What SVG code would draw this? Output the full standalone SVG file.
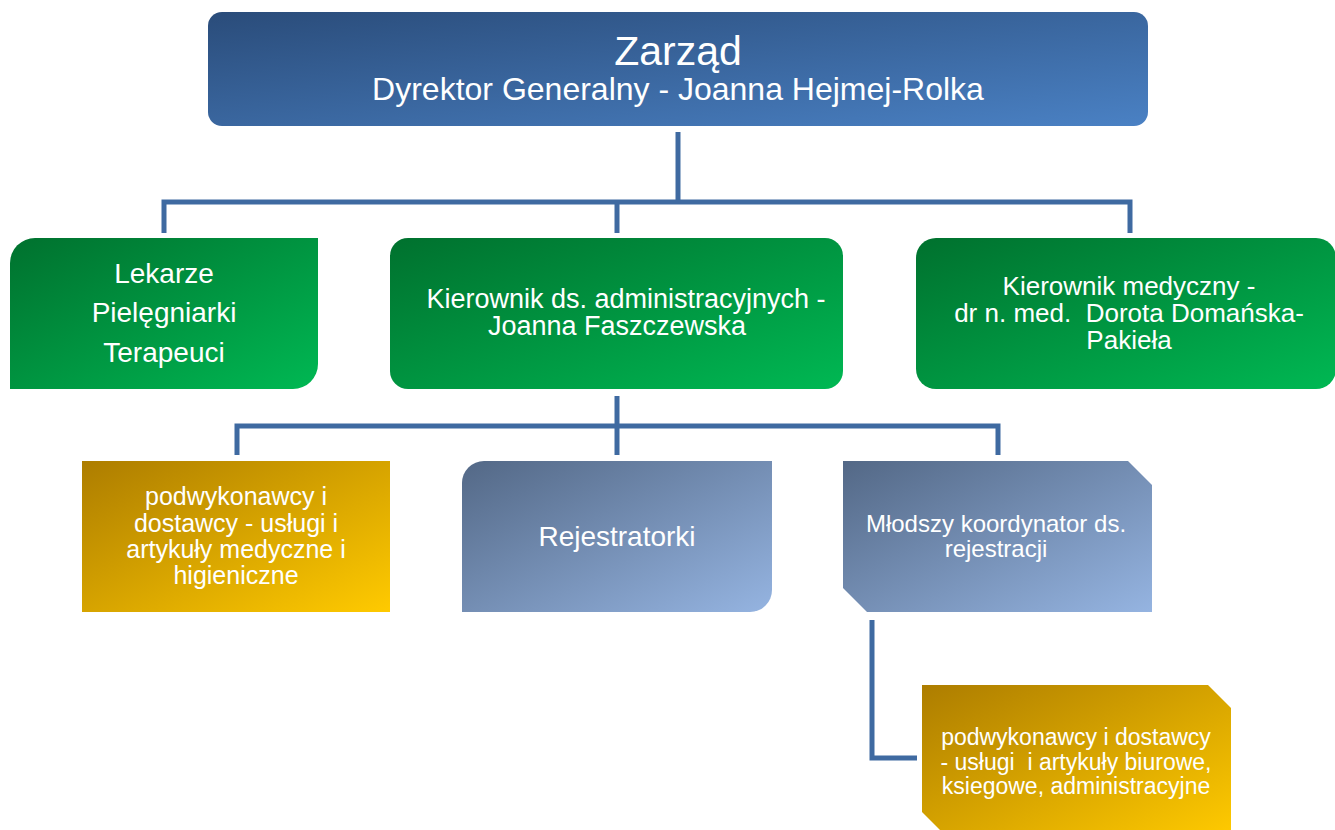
<svg xmlns="http://www.w3.org/2000/svg" width="1335" height="830" viewBox="0 0 1335 830">
<defs>
<linearGradient id="gTop" x1="0" y1="0" x2="1" y2="1"><stop offset="0" stop-color="#2a4c7a"/><stop offset="1" stop-color="#4a81c4"/></linearGradient>
<linearGradient id="gGreen" x1="0" y1="0" x2="1" y2="1"><stop offset="0" stop-color="#00712e"/><stop offset="1" stop-color="#00b853"/></linearGradient>
<linearGradient id="gYellow" x1="0" y1="0" x2="1" y2="1"><stop offset="0" stop-color="#ad7d00"/><stop offset="1" stop-color="#ffca00"/></linearGradient>
<linearGradient id="gSlate" x1="0" y1="0" x2="1" y2="1"><stop offset="0" stop-color="#536886"/><stop offset="1" stop-color="#95b4e1"/></linearGradient>
<style>
text{font-family:"Liberation Sans",Arial,sans-serif;fill:#ffffff;text-anchor:middle;white-space:pre}
.conn{fill:none;stroke:#3f6aa1;stroke-width:5;stroke-linejoin:miter}
</style>
</defs>
<g id="connectors">
<path class="conn" d="M678,132 V202"/>
<path class="conn" d="M164,233 V202 H1130 V233"/>
<path class="conn" d="M617,202 V233"/>
<path class="conn" d="M617,396 V426"/>
<path class="conn" d="M237,455 V426 H998 V455"/>
<path class="conn" d="M617,426 V455"/>
<path class="conn" d="M872,620 V758 H917"/>
</g>
<g id="zarzad">
<rect x="208" y="12" width="940" height="114" rx="14" fill="url(#gTop)"/>
<text x="678" y="65" font-size="41">Zarząd</text>
<text x="678" y="100" font-size="32">Dyrektor Generalny - Joanna Hejmej-Rolka</text>
</g>
<g id="lekarze">
<path d="M10,263 A25,25 0 0 1 35,238 H318 V364 A25,25 0 0 1 293,389 H10 Z" fill="url(#gGreen)"/>
<text x="164" y="283" font-size="28">Lekarze</text>
<text x="164" y="322" font-size="28">Pielęgniarki</text>
<text x="164" y="362" font-size="28">Terapeuci</text>
</g>
<g id="kierownik-adm">
<rect x="390" y="238" width="453" height="151" rx="18" fill="url(#gGreen)"/>
<text x="626" y="308" font-size="27">Kierownik ds. administracyjnych -</text>
<text x="617" y="335" font-size="27">Joanna Faszczewska</text>
</g>
<g id="kierownik-med">
<rect x="916" y="238" width="420" height="151" rx="20" fill="url(#gGreen)"/>
<text x="1129" y="295" font-size="26">Kierownik medyczny -</text>
<text x="1129" y="322" font-size="26">dr n. med.  Dorota Domańska-</text>
<text x="1129" y="349" font-size="26">Pakieła</text>
</g>
<g id="podwykonawcy-med">
<rect x="82" y="461" width="308" height="151" fill="url(#gYellow)"/>
<text x="236" y="505" font-size="25">podwykonawcy i</text>
<text x="236" y="532" font-size="25">dostawcy - usługi i</text>
<text x="236" y="558" font-size="25">artykuły medyczne i</text>
<text x="236" y="584" font-size="25">higieniczne</text>
</g>
<g id="rejestratorki">
<path d="M462,483 A22,22 0 0 1 484,461 H772 V590 A22,22 0 0 1 750,612 H462 Z" fill="url(#gSlate)"/>
<text x="617" y="546" font-size="28">Rejestratorki</text>
</g>
<g id="mlodszy-koordynator">
<path d="M843,461 H1128 L1152,485 V612 H867 L843,588 Z" fill="url(#gSlate)"/>
<text x="996" y="532" font-size="24">Młodszy koordynator ds.</text>
<text x="996" y="557" font-size="24">rejestracji</text>
</g>
<g id="podwykonawcy-adm">
<path d="M922,685 H1208 L1231,708 V836 H946 L922,812 Z" fill="url(#gYellow)"/>
<text x="1076" y="745" font-size="23">podwykonawcy i dostawcy</text>
<text x="1076" y="770" font-size="23">- usługi  i artykuły biurowe,</text>
<text x="1076" y="794" font-size="23">ksiegowe, administracyjne</text>
</g>
</svg>
